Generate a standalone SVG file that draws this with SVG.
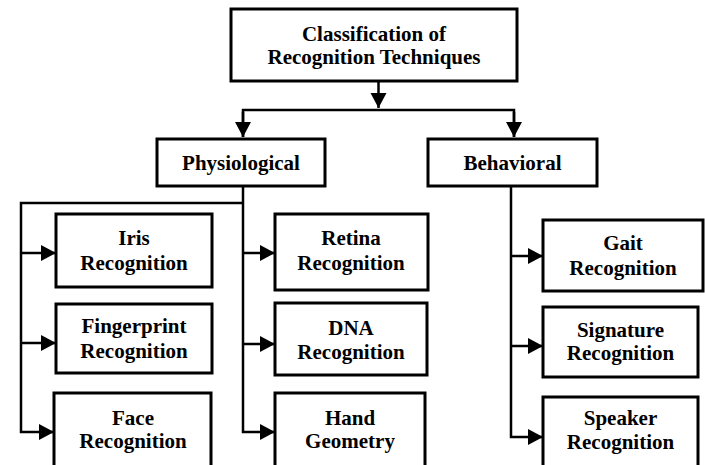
<svg xmlns="http://www.w3.org/2000/svg" width="705" height="465" viewBox="0 0 705 465">
<style>
.box{fill:#fff;stroke:#000;stroke-width:3}
.t{font-family:"Liberation Serif","Times New Roman",serif;font-weight:bold;font-size:21px;text-anchor:middle;fill:#000}
.ln{fill:none;stroke:#000;stroke-width:2.5}
</style>
<defs>
<marker id="ah" markerUnits="userSpaceOnUse" markerWidth="16" markerHeight="18" refX="15" refY="8" orient="auto">
<path d="M0,0 L15,8 L0,16 Z" fill="#000"/>
</marker>
</defs>
<rect width="705" height="465" fill="#fff"/>
<g id="connectors">
<path class="ln" d="M378.5,81 V108" marker-end="url(#ah)"/>
<path class="ln" d="M243,137 V110 H514 V137" />
<path class="ln" d="M243,112 V137" marker-end="url(#ah)"/>
<path class="ln" d="M514,112 V137" marker-end="url(#ah)"/>
<path class="ln" d="M243,186 V432 H275" marker-end="url(#ah)"/>
<path class="ln" d="M243,203 H21 V432 H54" marker-end="url(#ah)"/>
<path class="ln" d="M21,253 H56" marker-end="url(#ah)"/>
<path class="ln" d="M21,343 H56" marker-end="url(#ah)"/>
<path class="ln" d="M243,253 H275" marker-end="url(#ah)"/>
<path class="ln" d="M243,344 H275" marker-end="url(#ah)"/>
<path class="ln" d="M511,186 V437 H543" marker-end="url(#ah)"/>
<path class="ln" d="M511,256 H543" marker-end="url(#ah)"/>
<path class="ln" d="M511,346 H543" marker-end="url(#ah)"/>
</g>
<g id="root">
<rect class="box" x="231" y="9" width="286" height="72"/>
<text class="t" x="374" y="41">Classification of</text>
<text class="t" x="374" y="64">Recognition Techniques</text>
</g>
<g id="physiological">
<rect class="box" x="157" y="139" width="168" height="47"/>
<text class="t" x="241" y="170">Physiological</text>
</g>
<g id="behavioral">
<rect class="box" x="428" y="139" width="169" height="47"/>
<text class="t" x="512.5" y="170">Behavioral</text>
</g>
<g id="iris">
<rect class="box" x="56" y="214" width="156" height="73"/>
<text class="t" x="134" y="245">Iris</text>
<text class="t" x="134" y="270">Recognition</text>
</g>
<g id="fingerprint">
<rect class="box" x="56" y="304" width="156" height="69"/>
<text class="t" x="134" y="333">Fingerprint</text>
<text class="t" x="134" y="358">Recognition</text>
</g>
<g id="face">
<rect class="box" x="54" y="393" width="157" height="80"/>
<text class="t" x="133" y="425">Face</text>
<text class="t" x="133" y="448">Recognition</text>
</g>
<g id="retina">
<rect class="box" x="275" y="214" width="153" height="76"/>
<text class="t" x="351" y="245">Retina</text>
<text class="t" x="351" y="270">Recognition</text>
</g>
<g id="dna">
<rect class="box" x="275" y="303" width="152" height="72"/>
<text class="t" x="351" y="335">DNA</text>
<text class="t" x="351" y="359">Recognition</text>
</g>
<g id="hand">
<rect class="box" x="275" y="393" width="150" height="80"/>
<text class="t" x="350" y="425">Hand</text>
<text class="t" x="350" y="448">Geometry</text>
</g>
<g id="gait">
<rect class="box" x="543" y="220" width="160" height="71"/>
<text class="t" x="623" y="250">Gait</text>
<text class="t" x="623" y="275">Recognition</text>
</g>
<g id="signature">
<rect class="box" x="543" y="307" width="155" height="70"/>
<text class="t" x="620.5" y="337">Signature</text>
<text class="t" x="620.5" y="360">Recognition</text>
</g>
<g id="speaker">
<rect class="box" x="543" y="397" width="155" height="76"/>
<text class="t" x="620.5" y="425">Speaker</text>
<text class="t" x="620.5" y="449">Recognition</text>
</g>
</svg>
